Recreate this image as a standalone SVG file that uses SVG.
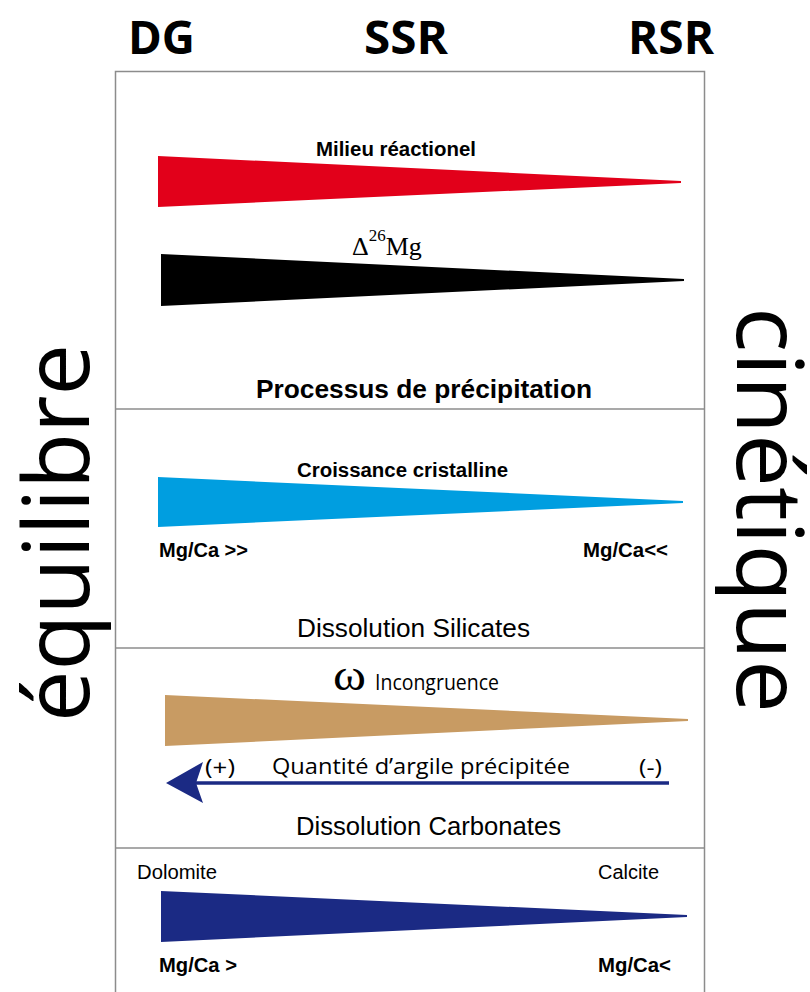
<svg xmlns="http://www.w3.org/2000/svg" width="810" height="992" viewBox="0 0 810 992">
<style>
.hdr{font-family:"Open Sans","Liberation Sans",sans-serif;font-weight:bold;font-size:46px;fill:#000}
.side{font-family:"Open Sans","Liberation Sans",sans-serif;font-size:92px;fill:#000}
.lb{font-family:"Liberation Sans",Arial,sans-serif;font-weight:bold;font-size:20px;fill:#000}
.lr{font-family:"Liberation Sans",Arial,sans-serif;font-size:20px;fill:#000}
.big{font-family:"Liberation Sans",Arial,sans-serif;font-size:25px;fill:#000}
.os{font-family:"Open Sans","Liberation Sans",sans-serif;font-size:22px;fill:#000}
.frame{fill:none;stroke:#8c8c8c;stroke-width:1.5}
</style>
<rect width="810" height="992" fill="#fff"/>
<g id="headers">
<text class="hdr" x="128" y="54" textLength="67" lengthAdjust="spacingAndGlyphs">DG</text>
<text class="hdr" x="364" y="54" textLength="84" lengthAdjust="spacingAndGlyphs">SSR</text>
<text class="hdr" x="628" y="54" textLength="86" lengthAdjust="spacingAndGlyphs">RSR</text>
</g>
<g id="frame">
<rect class="frame" x="115.5" y="71.5" width="589" height="940"/>
<line class="frame" x1="115.5" y1="409" x2="704.5" y2="409"/>
<line class="frame" x1="115.5" y1="648" x2="704.5" y2="648"/>
<line class="frame" x1="115.5" y1="848" x2="704.5" y2="848"/>
</g>
<g id="side-labels">
<text class="side" transform="translate(89,533) rotate(-90)" text-anchor="middle" textLength="378" lengthAdjust="spacingAndGlyphs">équilibre</text>
<text class="side" transform="translate(737,510) rotate(90)" text-anchor="middle" textLength="406" lengthAdjust="spacingAndGlyphs">cinétique</text>
</g>
<g id="precipitation">
<text class="lb" x="316" y="156" textLength="160" lengthAdjust="spacingAndGlyphs">Milieu réactionel</text>
<polygon points="158,156 681,181 681,183 158,207" fill="#e2001a"/>
<text x="352" y="255" font-family="'Liberation Serif','DejaVu Serif',serif" font-size="26">Δ<tspan font-size="17" dy="-14">26</tspan><tspan dy="14">Mg</tspan></text>
<polygon points="161,254 684,279 684,281 161,306" fill="#000"/>
<text class="big" x="256" y="398" textLength="336" lengthAdjust="spacingAndGlyphs" font-weight="bold">Processus de précipitation</text>
</g>
<g id="silicates">
<text class="lb" x="297" y="477" textLength="211" lengthAdjust="spacingAndGlyphs">Croissance cristalline</text>
<polygon points="158,477 683,501 683,503 158,527" fill="#009ee0"/>
<text class="lb" x="159" y="557" textLength="89" lengthAdjust="spacingAndGlyphs">Mg/Ca &gt;&gt;</text>
<text class="lb" x="583" y="557" textLength="85" lengthAdjust="spacingAndGlyphs">Mg/Ca&lt;&lt;</text>
<text class="big" x="297" y="637" textLength="233" lengthAdjust="spacingAndGlyphs">Dissolution Silicates</text>
</g>
<g id="carbonates">
<text x="333" y="690" font-family="'Liberation Serif','DejaVu Serif',serif" font-size="44" textLength="33" lengthAdjust="spacingAndGlyphs">ω</text>
<text class="os" x="375" y="690" font-size="18" textLength="124" lengthAdjust="spacingAndGlyphs">Incongruence</text>
<polygon points="165,695 688,719 688,721 165,746" fill="#c89b63"/>
<text class="os" x="205" y="775" textLength="30" lengthAdjust="spacingAndGlyphs">(+)</text>
<text class="os" x="272" y="774" textLength="298" lengthAdjust="spacingAndGlyphs">Quantité d’argile précipitée</text>
<text class="os" x="639" y="775" textLength="23" lengthAdjust="spacingAndGlyphs">(-)</text>
<text class="big" x="296" y="835" textLength="265" lengthAdjust="spacingAndGlyphs">Dissolution Carbonates</text>
</g>
<g id="connectors">
<line x1="669" y1="783" x2="196" y2="783" stroke="#1b2a84" stroke-width="3.5"/>
<polygon points="166,783 203,762 196,783 203,803" fill="#1b2a84"/>
</g>
<g id="minerals">
<text class="lr" x="137" y="879" textLength="80" lengthAdjust="spacingAndGlyphs">Dolomite</text>
<text class="lr" x="598" y="879" textLength="61" lengthAdjust="spacingAndGlyphs">Calcite</text>
<polygon points="161,891 687,915 687,917 161,942" fill="#1b2a84"/>
<text class="lb" x="159" y="972" textLength="78" lengthAdjust="spacingAndGlyphs">Mg/Ca &gt;</text>
<text class="lb" x="598" y="972" textLength="73" lengthAdjust="spacingAndGlyphs">Mg/Ca&lt;</text>
</g>
</svg>
